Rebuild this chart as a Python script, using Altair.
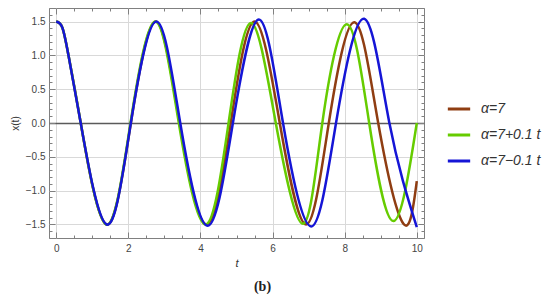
import altair as alt
import pandas as pd

# Values (extremes, zero crossings, a few shoulder points)
labels = ["α=7", "α=7+0.1 t", "α=7−0.1 t"]
colors = ["#8f3d12", "#66cc00", "#1515d6"]

t_brown = [0, 0.17, 0.34, 0.68, 1.39, 2.07, 2.76, 3.42, 4.17, 4.84, 5.50, 6.20, 6.93, 7.56, 8.27, 8.93, 9.63, 10.0]
x_brown = [1.5, 1.41, 1.0, 0, -1.5, 0, 1.5, 0, -1.5, 0, 1.5, 0, -1.5, 0, 1.49, 0, -1.49, -0.86]

t_green = [0, 0.17, 0.34, 0.68, 1.39, 2.06, 2.75, 3.40, 4.14, 4.78, 5.40, 6.09, 6.84, 7.38, 8.06, 8.68, 9.35, 10.0]
x_green = [1.5, 1.41, 1.0, 0, -1.5, 0, 1.5, 0, -1.5, 0, 1.48, 0, -1.49, 0, 1.46, 0, -1.45, 0]

t_blue = [0, 0.17, 0.34, 0.68, 1.40, 2.07, 2.78, 3.44, 4.20, 4.90, 5.62, 6.29, 7.07, 7.76, 8.54, 9.24, 10.0]
x_blue = [1.5, 1.41, 1.0, 0, -1.5, 0, 1.5, 0, -1.52, 0, 1.53, 0, -1.53, 0, 1.54, 0, -1.54]

x_major = [0, 2, 4, 6, 8, 10]
x_ticks = [i * 0.5 for i in range(0, 21)]
y_major = [-1.5, -1.0, -0.5, 0.0, 0.5, 1.0, 1.5]
y_ticks = [round(i / 10, 1) for i in range(-17, 18)]

rows = []
for lab, ts, xs_ in zip(labels, [t_brown, t_green, t_blue], [x_brown, x_green, x_blue]):
    for t, v in zip(ts, xs_):
        rows.append({"t": t, "x": v, "series": lab})
df = pd.DataFrame(rows)

W, H = 375, 230
FRAME = "#808080"
LABEL = "#444444"

xscale = alt.Scale(domain=[-0.2, 10.2], nice=False, zero=False)
yscale = alt.Scale(domain=[-1.7, 1.7], nice=False, zero=False)

color = alt.Color(
    "series:N",
    scale=alt.Scale(domain=labels, range=colors),
    legend=alt.Legend(
        orient="none", legendX=397, legendY=88, title=None,
        symbolType="stroke", symbolStrokeWidth=3, symbolSize=500,
        labelFontSize=14, labelFontStyle="italic", labelFont="Liberation Sans",
        labelColor="#333333", labelOffset=9, rowPadding=6, padding=0,
    ),
)

x_tick_size = {"condition": {"test": "datum.value % 2 === 0", "value": 6}, "value": 3}
y_tick_size = {"condition": {"test": "abs(round(datum.value * 10)) % 5 === 0", "value": 6}, "value": 3}

xa_main = alt.Axis(
    orient="bottom", values=x_major, format="d", grid=True, gridColor="#d9d9d9",
    ticks=False, domain=False, labelPadding=5, labelFontSize=10, labelColor=LABEL,
    title="t", titleFontStyle="italic", titleFontWeight="normal", titleFontSize=11,
    titleColor="#333333", titlePadding=4,
)
ya_main = alt.Axis(
    orient="left", values=y_major, format=".1f", grid=True,
    gridColor={"condition": {"test": "datum.value === 0", "value": "#5a5a5a"}, "value": "#d9d9d9"},
    gridWidth={"condition": {"test": "datum.value === 0", "value": 1.5}, "value": 1},
    ticks=False, domain=False, labelPadding=4, labelFontSize=10, labelColor=LABEL,
    title="x(t)", titleX=-29, titleY=115, titleFontWeight="normal", titleFontSize=10,
    titleColor="#333333",
)
xa_b = alt.Axis(orient="top", offset=-H, values=x_ticks, labels=False, grid=False,
                domain=False, title=None, tickSize=x_tick_size, tickColor=FRAME)
ya_b = alt.Axis(orient="right", offset=-W, values=y_ticks, labels=False, grid=False,
                domain=False, title=None, tickSize=y_tick_size, tickColor=FRAME)
xa_c = alt.Axis(orient="bottom", offset=-H, values=x_ticks, labels=False, grid=False,
                domain=False, title=None, tickSize=x_tick_size, tickColor=FRAME)
ya_c = alt.Axis(orient="left", offset=-W, values=y_ticks, labels=False, grid=False,
                domain=False, title=None, tickSize=y_tick_size, tickColor=FRAME)


def layer(lab, xa, ya):
    return (
        alt.Chart(df)
        .transform_filter(alt.datum.series == lab)
        .mark_line(interpolate="natural", strokeWidth=2.5)
        .encode(
            x=alt.X("t:Q", scale=xscale, axis=xa),
            y=alt.Y("x:Q", scale=yscale, axis=ya),
            color=color,
        )
    )


chart = (
    alt.layer(
        layer(labels[0], xa_main, ya_main),
        layer(labels[1], xa_b, ya_b),
        layer(labels[2], xa_c, ya_c),
    )
    .resolve_axis(x="independent", y="independent")
    .properties(
        width=W, height=H,
        autosize="none",
        padding={"left": 41, "top": 0, "right": 118, "bottom": 59},
        title=alt.TitleParams(
            text="(b)", orient="bottom", anchor="middle", frame="group", dx=26,
            offset=12, font="Liberation Serif", fontSize=14, fontWeight="bold",
            color="#222222",
        ),
    )
    .configure_view(stroke=FRAME, strokeWidth=1)
    .configure_axis(labelFont="Liberation Sans", titleFont="Liberation Sans")
)

chart.save("out.html", embed_options={"renderer": "svg", "actions": False})
